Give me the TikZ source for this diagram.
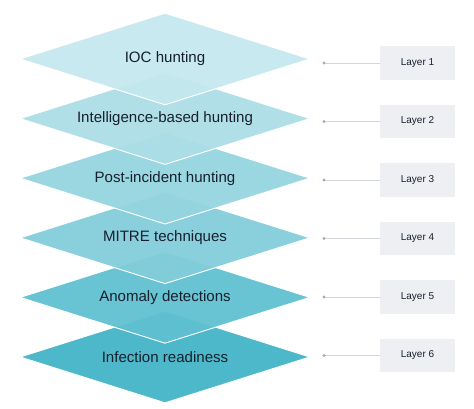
\documentclass[tikz,border=0pt]{standalone}
\usepackage{fontspec}
\setmainfont{Liberation Sans}
\usetikzlibrary{shapes.geometric}
\definecolor{thlInk}{HTML}{18202E}
\definecolor{thlTag}{HTML}{EDEFF2}
\definecolor{thlWire}{HTML}{D3D7DC}
\definecolor{thlOne}{HTML}{C4E8EE}
\definecolor{thlTwo}{HTML}{ACDEE7}
\definecolor{thlThree}{HTML}{94D5E0}
\definecolor{thlFour}{HTML}{82CDDA}
\definecolor{thlFive}{HTML}{5FC0D1}
\definecolor{thlSix}{HTML}{42B4C7}
\tikzset{
  thl layer/.style={diamond, aspect=3.15, minimum width=217.5pt, minimum height=69pt, inner sep=0pt,
    draw=white, line width=0.7pt, fill opacity=0.94, text opacity=1, font=\fontsize{11.3}{13}\selectfont, text=thlInk},
  thl tag/.style={rectangle, fill=thlTag, minimum width=56pt, minimum height=25pt, inner sep=0pt,
    font=\fontsize{7.5}{9}\selectfont, text=thlInk},
  thl wire/.style={draw=thlWire, line width=0.6pt},
}

\begin{document}
\begin{tikzpicture}[x=0.75pt,y=-0.75pt]
  \useasboundingbox[fill=white] (0,0) rectangle (474,409);
  % stacked layers, bottom one first so the upper ones overlap it
  \foreach \i/\t/\c in {6/Infection readiness/thlSix,5/Anomaly detections/thlFive,
      4/MITRE techniques/thlFour,3/Post-incident hunting/thlThree,
      2/Intelligence-based hunting/thlTwo,1/IOC hunting/thlOne}
    \node[thl layer, fill=\c] (lvl\i) at (165,{59+(\i-1)*59.6}) {\t};
  % layer tags with their leader lines
  \foreach \i in {1,...,6} {
    \node[thl tag] (tag\i) at (417.5,{63+(\i-1)*58.5}) {Layer \i};
    \coordinate (pin\i) at (324,{63+(\i-1)*58.5});
    \draw[thl wire] (pin\i) -- (tag\i.west);
    \fill[thlWire!80!black] (pin\i) circle [radius=1.2pt];
  }
\end{tikzpicture}
\end{document}
